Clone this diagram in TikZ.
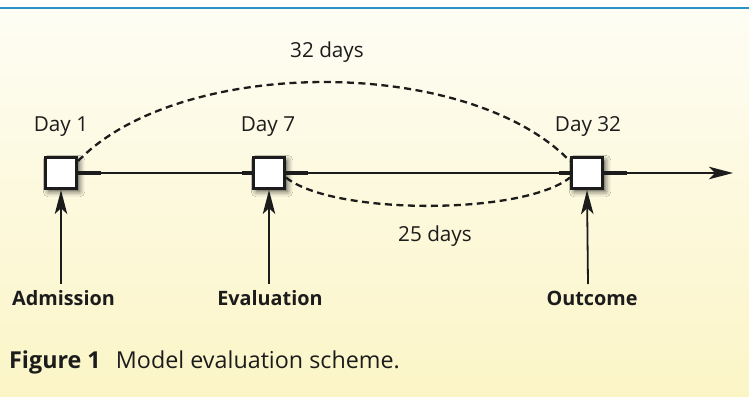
\documentclass[tikz,border=0pt]{standalone}
\usepackage{fontspec}
\setmainfont{Open Sans}
\usetikzlibrary{arrows.meta,shadows.blur}
\definecolor{bgtop}{RGB}{254,253,244}
\definecolor{bgbot}{RGB}{251,245,198}
\definecolor{rule}{RGB}{38,146,198}
\definecolor{ink}{RGB}{28,28,28}
\tikzset{
  daybox/.style={draw=ink,fill=white,line width=2.7pt,minimum size=31.5pt,inner sep=0pt,
    blur shadow={shadow xshift=3pt,shadow yshift=-3pt,shadow blur radius=5pt,shadow opacity=65}},
  thinline/.style={draw=ink,line width=1.8pt},
  thickseg/.style={draw=ink,line width=4.2pt},
  dashcurve/.style={draw=ink,line width=2.3pt,dash pattern=on 7pt off 4.5pt},
  arr/.style={draw=ink,line width=1.8pt,-{Stealth[length=24pt,width=12.5pt,inset=6pt]}},
  daylbl/.style={anchor=base,font=\fontsize{20.7}{23}\selectfont,text=ink,inner sep=0pt},
  evlbl/.style={anchor=base,font=\fontsize{19.8}{22}\selectfont\bfseries,text=ink,inner sep=0pt},
}
\begin{document}
\begin{tikzpicture}[x=1pt,y=-1pt]
\useasboundingbox (0,0) rectangle (749,396);
\fill[white] (0,0) rectangle (749,10);
\shade[top color=bgtop,bottom color=bgbot] (0,9) rectangle (749,396);
\draw[rule,line width=2.6pt] (0,8) -- (749,8);

\node[daybox] (b1) at (61,173) {};
\node[daybox] (b2) at (269,173) {};
\node[daybox] (b3) at (587,173) {};
\coordinate (tip) at (733,173);

\draw[thinline] (b1.east) -- (b2.west);
\draw[thinline] (b2.east) -- (b3.west);
\draw[arr] (b3.east) -- (tip);
\draw[thickseg] (b1.east) -- ++(23,0);
\draw[thickseg] (b2.west) -- ++(-10,0);
\draw[thickseg] (b2.east) -- ++(22,0);
\draw[thickseg] (b3.west) -- ++(-11,0);
\draw[thickseg] (b3.east) -- ++(23,0);

\draw[dashcurve] (b1.35) .. controls (180,55.7) and (468,55.7) .. (b3.145);
\draw[dashcurve] (b2.-15) .. controls (333,215.3) and (523,215.3) .. (b3.195);

\node[daylbl] (d1) at (61,131) {Day 1};
\node[daylbl] (d7) at (268,131) {Day 7};
\node[daylbl] (d32) at (588,131) {Day 32};
\node[daylbl] (l32) at (327,57) {32 days};
\node[daylbl] (l25) at (435,241) {25 days};

\node[evlbl] (adm) at (63.5,305) {Admission};
\node[evlbl] (eva) at (270,305) {Evaluation};
\node[evlbl] (out) at (592,305) {Outcome};
\coordinate (a1) at (61,284);
\coordinate (a2) at (269,284);
\coordinate (a3) at (588,284);
\draw[arr] (a1) -- (b1.south);
\draw[arr] (a2) -- (b2.south);
\draw[arr] (a3) -- (b3.south);

\node[anchor=base west,inner sep=0pt,text=ink,font=\fontsize{23.3}{26}\selectfont] (cap) at (9,368)
  {\textbf{Figure 1}\hspace{0.65em}Model evaluation scheme.};
\end{tikzpicture}
\end{document}
